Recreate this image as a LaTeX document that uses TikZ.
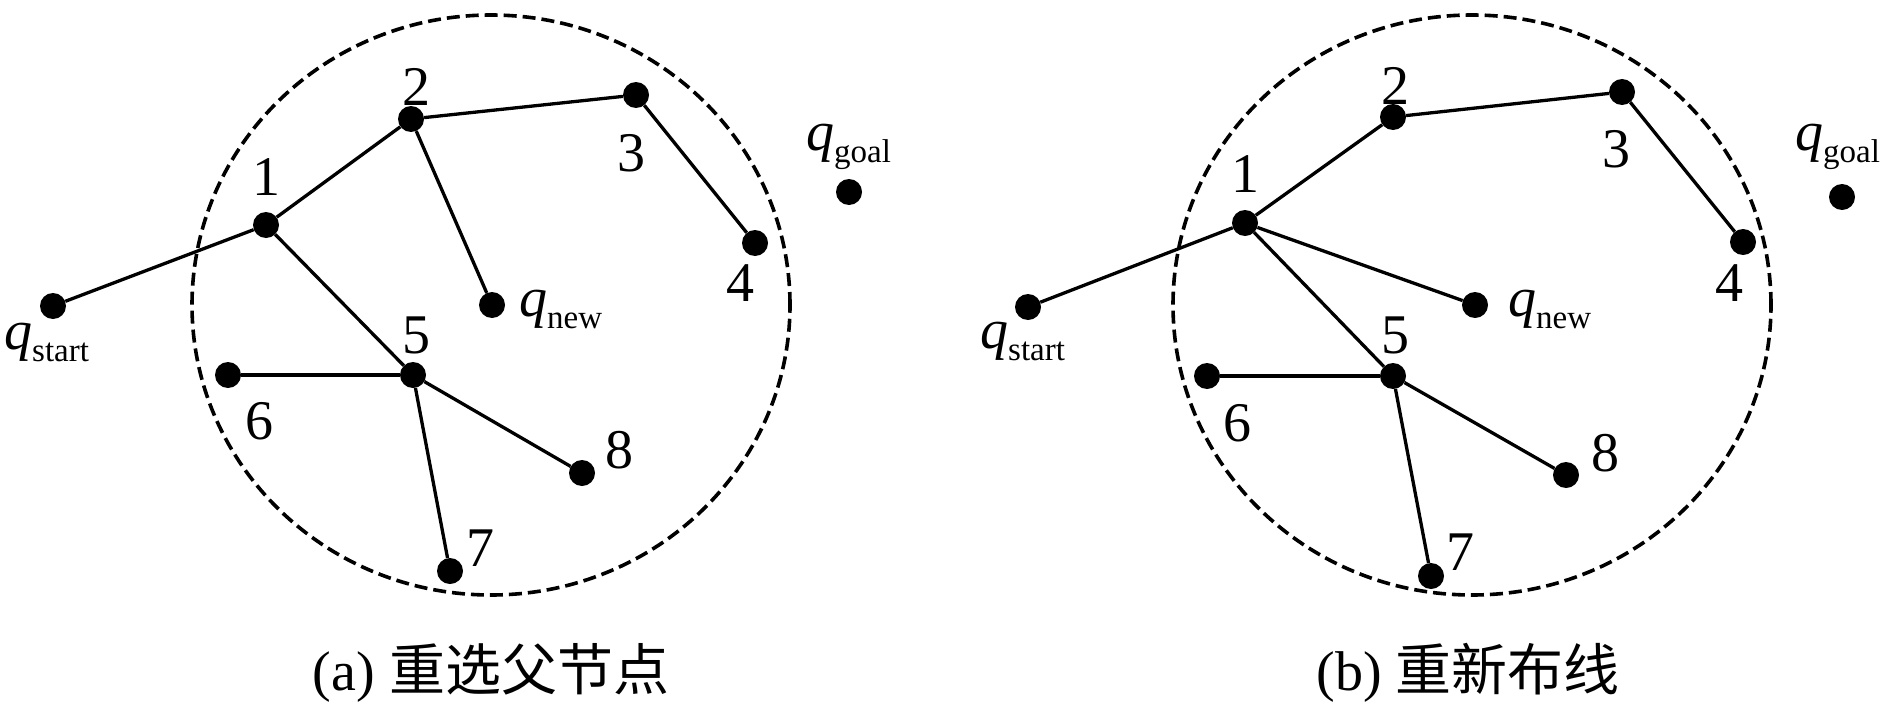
\documentclass[tikz,border=0pt]{standalone}
\usepackage{fontspec}
\usetikzlibrary{shapes.geometric}
\setmainfont{Liberation Serif}
\newfontfamily\cjk{Noto Sans CJK SC}
\newcommand{\lblfont}{\fontsize{56}{60}\selectfont}
\newcommand{\subfnt}{\fontsize{33}{36}\selectfont}
\newcommand{\qlab}[1]{{\itshape q}\raisebox{-12pt}{\subfnt #1}}
\begin{document}
\begin{tikzpicture}[x=1pt,y=-1pt,
  dot/.style={circle, fill=black, inner sep=0pt, minimum size=26pt},
  edge/.style={line width=3.3pt},
  ring/.style={line width=3.6pt, dash pattern=on 13pt off 6pt},
  lbl/.style={font=\lblfont, inner sep=0pt, anchor=base},
  qtxt/.style={font=\lblfont, inner sep=0pt, anchor=base west},
  captxt/.style={font=\lblfont, inner sep=0pt, anchor=base}]
\useasboundingbox (0,0) rectangle (1890,709);
% ---------------- panel (a) ----------------
\node[draw, ring, ellipse, minimum width=598pt, minimum height=580pt, inner sep=0pt] (ca) at (491,305) {};
\node[dot] (as) at (53,306) {};
\node[dot] (a1) at (266,225) {};
\node[dot] (a2) at (411,119) {};
\node[dot] (a3) at (636,95) {};
\node[dot] (a4) at (755,243) {};
\node[dot] (an) at (492,305) {};
\node[dot] (a5) at (413,375) {};
\node[dot] (a6) at (228,375) {};
\node[dot] (a8) at (582,473) {};
\node[dot] (a7) at (450,571) {};
\node[dot] (ag) at (849,192) {};
\draw[edge] (as) -- (a1);
\draw[edge] (a1) -- (a2);
\draw[edge] (a2) -- (a3);
\draw[edge] (a3) -- (a4);
\draw[edge] (a2) -- (an);
\draw[edge] (a1) -- (a5);
\draw[edge] (a5) -- (a6);
\draw[edge] (a5) -- (a8);
\draw[edge] (a5) -- (a7);
\node[lbl] (la1) at (266,195) {1};
\node[lbl] (la2) at (416,105) {2};
\node[lbl] (la3) at (631,171) {3};
\node[lbl] (la4) at (740,301) {4};
\node[lbl] (la5) at (416,353) {5};
\node[lbl] (la6) at (259,439) {6};
\node[lbl] (la7) at (480,566) {7};
\node[lbl] (la8) at (619,468) {8};
\node[qtxt] (lqs) at (4,349) {\qlab{start}};
\node[qtxt] (lqn) at (519,316) {\qlab{new}};
\node[qtxt] (lqg) at (806,150) {\qlab{goal}};
\node[captxt] (capa) at (491,690) {(a) {\cjk 重选父节点}};
% ---------------- panel (b) ----------------
\node[draw, ring, ellipse, minimum width=598pt, minimum height=580pt, inner sep=0pt] (cb) at (1472,305) {};
\node[dot] (bs) at (1028,307) {};
\node[dot] (b1) at (1245,223) {};
\node[dot] (b2) at (1393,117) {};
\node[dot] (b3) at (1622,92) {};
\node[dot] (b4) at (1743,242) {};
\node[dot] (bn) at (1475,305) {};
\node[dot] (b5) at (1393,376) {};
\node[dot] (b6) at (1207,376) {};
\node[dot] (b8) at (1566,475) {};
\node[dot] (b7) at (1431,576) {};
\node[dot] (bg) at (1842,197) {};
\draw[edge] (bs) -- (b1);
\draw[edge] (b1) -- (b2);
\draw[edge] (b2) -- (b3);
\draw[edge] (b3) -- (b4);
\draw[edge] (b1) -- (bn);
\draw[edge] (b1) -- (b5);
\draw[edge] (b5) -- (b6);
\draw[edge] (b5) -- (b8);
\draw[edge] (b5) -- (b7);
\node[lbl] (lb1) at (1245,192) {1};
\node[lbl] (lb2) at (1395,104) {2};
\node[lbl] (lb3) at (1616,167) {3};
\node[lbl] (lb4) at (1729,301) {4};
\node[lbl] (lb5) at (1395,353) {5};
\node[lbl] (lb6) at (1237,441) {6};
\node[lbl] (lb7) at (1460,570) {7};
\node[lbl] (lb8) at (1605,471) {8};
\node[qtxt] (lbs) at (980,348) {\qlab{start}};
\node[qtxt] (lbn) at (1508,316) {\qlab{new}};
\node[qtxt] (lbg) at (1795,150) {\qlab{goal}};
\node[captxt] (capb) at (1468,690) {(b) {\cjk 重新布线}};
\end{tikzpicture}
\end{document}
